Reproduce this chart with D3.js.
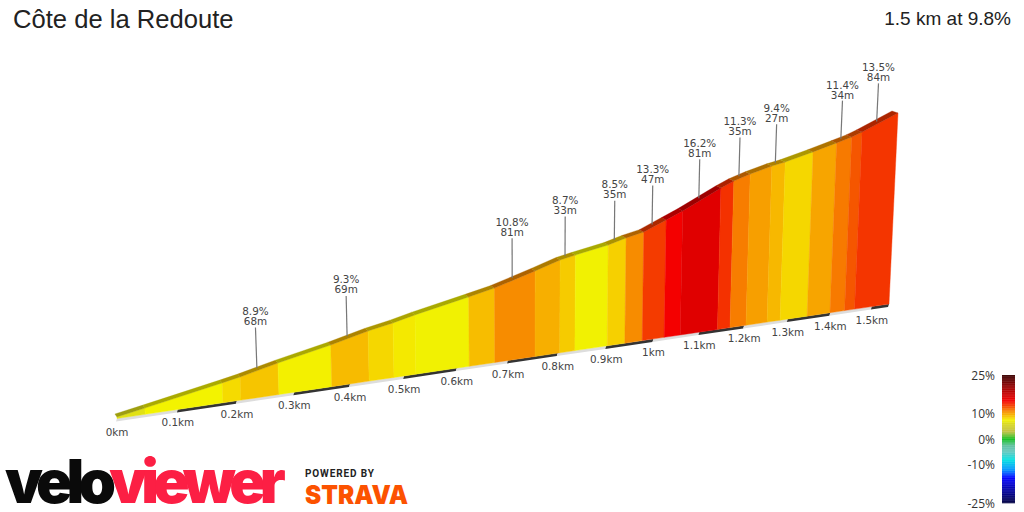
<!DOCTYPE html>
<html>
<head>
<meta charset="utf-8">
<title>Côte de la Redoute</title>
<script src="https://cdn.jsdelivr.net/npm/d3@7"></script>
<style>
html, body { margin: 0; padding: 0; background: #fff; }
svg { display: block; }
</style>
</head>
<body>
<svg id="chart" width="1024" height="512"></svg>
<script>
// profile
var distKm = [0, 0.046, 0.176, 0.207, 0.273, 0.367, 0.435, 0.481, 0.522, 0.624, 0.674, 0.754, 0.804, 0.835, 0.902, 0.939, 0.976, 1.023, 1.058, 1.140, 1.168, 1.204, 1.252, 1.282, 1.345, 1.399, 1.434, 1.458, 1.542];
var elevM = [1, 4.1, 13.3, 15.6, 21.4, 28.7, 34.9, 38.2, 41.8, 49.6, 53.6, 62.3, 68.1, 70.4, 74.9, 78.6, 81.5, 88.7, 94.1, 108.4, 112.8, 116.9, 121.4, 123.5, 129.3, 134.6, 138.2, 141.3, 154.1];
var gradients = [6.5, 7.5, 8.2, 8.9, 7.6, 9.3, 8.3, 7.8, 7.4, 9.2, 10.8, 9.7, 8.7, 7.4, 8.5, 10.8, 13.3, 15, 16.2, 13.6, 11.3, 10.2, 9.4, 8.3, 10, 11.4, 12.5, 13.5];

// climbs that get a label
var labelSegments = [3, 5, 10, 12, 14, 16, 18, 20, 22, 25, 27];
var labelGrades = ['8.9%', '9.3%', '10.8%', '8.7%', '8.5%', '13.3%', '16.2%', '11.3%', '9.4%', '11.4%', '13.5%'];
var labelLengths = ['68m', '69m', '81m', '33m', '35m', '47m', '81m', '35m', '27m', '34m', '84m'];

var tickKm = [0, 0.1, 0.2, 0.3, 0.4, 0.5, 0.6, 0.7, 0.8, 0.9, 1, 1.1, 1.2, 1.3, 1.4, 1.5];
var tickLabels = ['0km', '0.1km', '0.2km', '0.3km', '0.4km', '0.5km', '0.6km', '0.7km', '0.8km', '0.9km', '1km', '1.1km', '1.2km', '1.3km', '1.4km', '1.5km'];

var legendTicks = [25, 10, 0, -10, -25];
var colorStops = [-25, -20, -15, -12, -8, -5, -2.5, 0, 3, 6, 7.5, 8.5, 9.4, 10.8, 11.4, 13.4, 15, 16.2, 20, 25];
var colorValues = ['#000040', '#0000a0', '#0000ff', '#0090ff', '#00e0e0', '#60c8c0', '#60c0a0', '#10c020', '#c0c040', '#d8d820', '#f3f300', '#f6d000', '#f7b800', '#f78c00', '#f77a00', '#f43800', '#f40000', '#e00000', '#a00000', '#3a0000'];

var svg = d3.select('#chart');
var color = d3.scaleLinear().domain(colorStops).range(colorValues);

// perspective: distance is squeezed as it goes away from the viewer
function depth(km) {
    return km / (1 + 0.152 * km);
}
var kmMax = distKm[distKm.length - 1];
var xBase = d3.scaleLinear().domain([0, depth(kmMax)]).range([117, 889]);
var yBase = d3.scaleLinear().domain([0, depth(kmMax)]).range([418.5, 304]);
var hScale = d3.scaleLinear().domain([0, 154.1]).range([0, 235.8]);

function bottom(km) {
    return [xBase(depth(km)), yBase(depth(km))];
}
function top3d(km, m) {
    var b = bottom(km);
    var h = hScale(m) / (1 + 0.152 * km);
    // verticals lean away from a vanishing point
    return [b[0] + h * (b[0] - 530) / 7618, b[1] - h];
}
function back(km, m) {
    var p = top3d(km, m);
    var t = km / kmMax;
    return [p[0] - (2 + 4 * t), p[1] - (3 - t)];
}
var line = d3.line();

// road strip under the wall
var stripEnds = tickKm.concat([kmMax]);
svg.append('g').selectAll('path')
    .data(d3.range(stripEnds.length - 1))
    .enter().append('path')
    .attr('d', function (i) {
        var a = bottom(stripEnds[i]), b = bottom(stripEnds[i + 1]);
        return line([a, b, [b[0] - 1, b[1] + 3], [a[0] - 1, a[1] + 3]]) + 'Z';
    })
    .attr('fill', function (i) { return i % 2 ? '#333' : '#ddd'; });

// front of the wall
svg.append('g').selectAll('path')
    .data(gradients)
    .enter().append('path')
    .attr('d', function (g, i) {
        return line([
            top3d(distKm[i], elevM[i]), top3d(distKm[i + 1], elevM[i + 1]),
            bottom(distKm[i + 1]), bottom(distKm[i])
        ]) + 'Z';
    })
    .attr('fill', function (g) { return color(g); })
    .attr('stroke', function (g) { return color(g); })
    .attr('stroke-width', 0.4);

// road surface on top
svg.append('g').selectAll('path')
    .data(gradients)
    .enter().append('path')
    .attr('d', function (g, i) {
        return line([
            top3d(distKm[i], elevM[i]), top3d(distKm[i + 1], elevM[i + 1]),
            back(distKm[i + 1], elevM[i + 1]), back(distKm[i], elevM[i])
        ]) + 'Z';
    })
    .attr('fill', function (g) { return d3.color(color(g)).darker(1); })
    .attr('stroke', function (g) { return d3.color(color(g)).darker(1); })
    .attr('stroke-width', 0.3);

// km ticks
svg.append('g').selectAll('text')
    .data(tickKm)
    .enter().append('text')
    .attr('x', function (d) { return bottom(d)[0]; })
    .attr('y', function (d) { return bottom(d)[1] + 17; })
    .attr('text-anchor', 'middle')
    .attr('font-family', 'DejaVu Sans')
    .attr('font-size', 10.4)
    .attr('fill', '#444')
    .text(function (d, i) { return tickLabels[i]; });

// climb labels
labelSegments.forEach(function (s, i) {
    var km = (distKm[s] + distKm[s + 1]) / 2;
    var m = (elevM[s] + elevM[s + 1]) / 2;
    var t = km / kmMax;
    var foot = back(km, m);
    foot[0] += 2.5 * t;
    var headX = foot[0] + 40 * (foot[0] - 530) / 7618;
    var headY = foot[1] - 40 + 3 * t;
    svg.append('line')
        .attr('x1', foot[0]).attr('y1', foot[1] + 1)
        .attr('x2', headX).attr('y2', headY)
        .attr('stroke', '#777').attr('stroke-width', 1.2);
    svg.append('text')
        .attr('x', headX).attr('y', headY - 13 + t)
        .attr('text-anchor', 'middle')
        .attr('font-family', 'DejaVu Sans').attr('font-size', 10.4).attr('fill', '#444')
        .text(labelGrades[i]);
    svg.append('text')
        .attr('x', headX).attr('y', headY - 3 + t)
        .attr('text-anchor', 'middle')
        .attr('font-family', 'DejaVu Sans').attr('font-size', 10.4).attr('fill', '#444')
        .text(labelLengths[i]);
});

// titles
svg.append('text').attr('x', 13).attr('y', 28)
    .attr('font-family', 'Liberation Sans').attr('font-size', 25.6).attr('fill', '#222')
    .text('Côte de la Redoute');
svg.append('text').attr('x', 1011).attr('y', 25).attr('text-anchor', 'end')
    .attr('font-family', 'Liberation Sans').attr('font-size', 19).attr('fill', '#222')
    .text('1.5 km at 9.8%');

// gradient legend
var legendY = d3.scaleLinear().domain([25, -25]).range([375, 503]);
svg.append('g').selectAll('rect')
    .data(d3.range(-25, 25, 0.25))
    .enter().append('rect')
    .attr('x', 1002).attr('width', 13)
    .attr('y', function (d) { return legendY(d + 0.25); })
    .attr('height', legendY(0) - legendY(0.25) + 0.3)
    .attr('fill', function (d) { return color(d + 0.125); });
svg.append('g').selectAll('text')
    .data(legendTicks)
    .enter().append('text')
    .attr('x', 995)
    .attr('y', function (d) { return legendY(d) + 4.5; })
    .attr('text-anchor', 'end')
    .attr('font-family', 'Open Sans').attr('font-size', 12).attr('fill', '#333')
    .text(function (d) { return d + '%'; });

// logos
var logo = svg.append('text').attr('x', 5).attr('y', 503)
    .attr('font-family', 'Inter').attr('font-weight', 900).attr('font-size', 60)
    .attr('letter-spacing', -5.85);
logo.append('tspan').attr('fill', '#0a0a0a').text('velo');
logo.append('tspan').attr('fill', '#fc1f44').text('viewer');
svg.append('text').attr('x', 305).attr('y', 477)
    .attr('font-family', 'Roboto').attr('font-weight', 700).attr('font-size', 10)
    .attr('textLength', 69).attr('fill', '#222').text('POWERED BY');
svg.append('text').attr('x', 305).attr('y', 504)
    .attr('font-family', 'Inter').attr('font-weight', 900).attr('font-size', 26)
    .attr('textLength', 103).attr('lengthAdjust', 'spacingAndGlyphs')
    .attr('fill', '#fc5200').text('STRAVA');
</script>
</body>
</html>
